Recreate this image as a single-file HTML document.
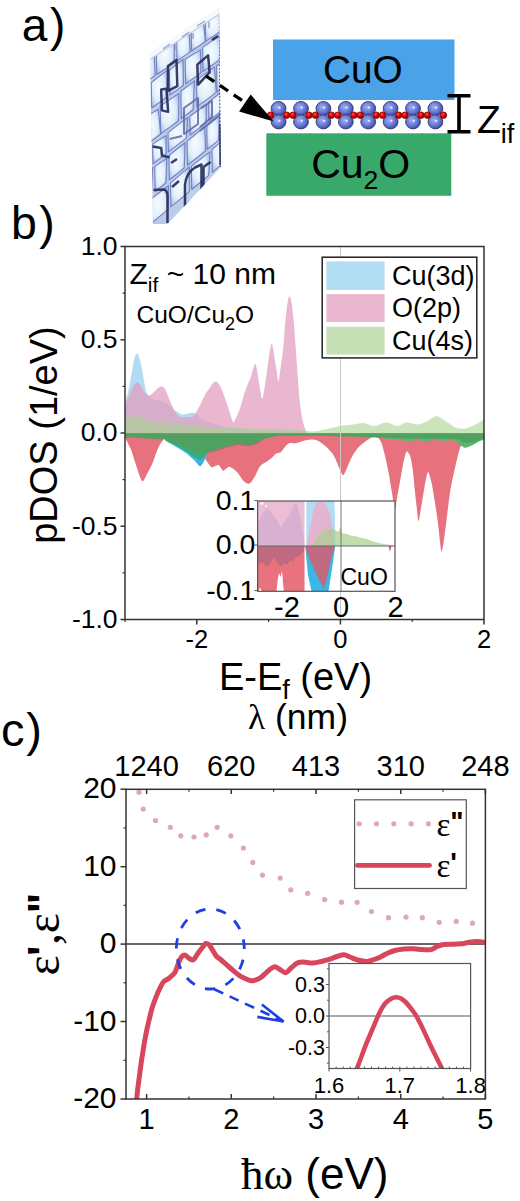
<!DOCTYPE html>
<html><head><meta charset="utf-8"><style>
html,body{margin:0;padding:0;background:#fff;overflow:hidden;width:520px;height:1201px;}
svg{display:block;}
</style></head><body>
<svg width="520" height="1201" viewBox="0 0 520 1201">
<rect width="520" height="1201" fill="#fff"/>
<text x="21.8" y="41.3" style="font-family:'Liberation Sans',sans-serif;font-size:46px;letter-spacing:2.6px" fill="#000">a)</text>
<defs><linearGradient id="slabg" x1="0" y1="0" x2="1" y2="1"><stop offset="0" stop-color="#c9d6f0"/><stop offset="0.5" stop-color="#b9c8ea"/><stop offset="1" stop-color="#c4d2ef"/></linearGradient><clipPath id="slabclip"><path d="M150,53 L219,8 L221,167 L170,221.5 L167.5,224 L153,224 Z"/></clipPath><filter id="blur1" x="-20%" y="-20%" width="140%" height="140%"><feGaussianBlur stdDeviation="1.6"/></filter><filter id="blur2" x="-20%" y="-20%" width="140%" height="140%"><feGaussianBlur stdDeviation="0.6"/></filter></defs>
<path d="M150,53 L219,8 L221,167 L170,221.5 L167.5,224 L153,224 Z" fill="url(#slabg)"/>
<g clip-path="url(#slabclip)">
<defs><radialGradient id="stone" cx="0.45" cy="0.45" r="0.62"><stop offset="0" stop-color="#f6fbff"/><stop offset="0.6" stop-color="#e0eefb"/><stop offset="1" stop-color="#aebfe8"/></radialGradient></defs>
<g filter="url(#blur2)" stroke="#7282be" stroke-width="1.1" stroke-linejoin="round" fill="url(#stone)">
<path d="M140.9,61.0 L154.2,52.4 L155.1,75.8 L141.4,85.1 Z"/>
<path d="M156.3,51.0 L174.5,37.7 L174.1,62.9 L156.7,74.7 Z"/>
<path d="M176.6,37.7 L189.1,30.5 L190.2,51.9 L177.0,60.9 Z"/>
<path d="M191.2,28.1 L203.3,21.8 L205.5,41.5 L191.5,51.0 Z"/>
<path d="M205.3,18.9 L222.5,8.0 L221.3,30.8 L205.6,41.4 Z"/>
<path d="M151.3,82.5 L167.3,70.1 L166.5,97.5 L151.7,108.0 Z"/>
<path d="M169.4,70.1 L183.1,59.2 L183.4,85.5 L169.8,95.1 Z"/>
<path d="M185.2,59.3 L200.5,49.9 L200.9,73.0 L185.6,83.9 Z"/>
<path d="M202.6,47.4 L219.6,35.8 L220.6,59.0 L202.9,71.6 Z"/>
<path d="M144.2,117.6 L158.2,109.2 L160.7,134.0 L144.7,145.9 Z"/>
<path d="M160.2,106.1 L178.9,93.4 L178.5,120.7 L160.7,133.9 Z"/>
<path d="M180.9,91.3 L194.5,80.9 L193.1,109.8 L181.3,118.6 Z"/>
<path d="M196.5,80.1 L214.5,66.9 L216.3,92.4 L196.9,106.9 Z"/>
<path d="M216.6,65.7 L231.4,56.5 L233.1,79.8 L216.9,92.0 Z"/>
<path d="M152.6,144.1 L166.0,135.5 L166.2,153.6 L153.0,163.8 Z"/>
<path d="M168.0,132.6 L187.7,117.4 L186.3,138.1 L168.4,151.9 Z"/>
<path d="M189.8,116.2 L206.6,104.5 L205.9,122.9 L190.1,135.1 Z"/>
<path d="M208.7,102.0 L221.0,92.2 L223.1,109.6 L208.9,120.6 Z"/>
<path d="M140.1,178.0 L152.7,167.3 L151.5,194.3 L140.6,203.1 Z"/>
<path d="M154.7,166.6 L166.9,158.2 L165.9,182.7 L155.2,191.4 Z"/>
<path d="M168.9,155.6 L185.1,142.8 L184.2,168.0 L169.3,180.0 Z"/>
<path d="M187.1,141.4 L204.7,126.5 L205.7,150.7 L187.5,165.3 Z"/>
<path d="M206.8,126.1 L219.4,116.1 L218.5,140.4 L207.1,149.5 Z"/>
<path d="M149.0,200.5 L168.5,185.7 L168.1,209.3 L149.4,224.9 Z"/>
<path d="M170.5,183.1 L189.3,166.9 L189.3,191.6 L170.9,206.9 Z"/>
<path d="M191.4,166.2 L210.0,151.6 L208.7,175.4 L191.7,189.5 Z"/>
<path d="M212.0,149.5 L231.7,132.7 L231.0,156.7 L212.3,172.3 Z"/>
</g>
<g fill="none" stroke="#5d6aa6" stroke-width="2" stroke-linejoin="round" opacity="0.85" filter="url(#blur2)">
<path d="M184,108 L198,98 L198,124 L184,134 Z"/>
<path d="M201,108 L212,101 L212,117 L200,127"/>
<path d="M169.6,139 L182,136"/>
<path d="M199.6,131 L221,113.5"/>
</g>
<g fill="none" stroke="#262d5c" stroke-width="2.5" stroke-linejoin="round" opacity="0.92" filter="url(#blur2)">
<path d="M197.3,64.6 L208.1,55.4 L209.6,72.3 L198.1,84.6 Z"/>
<path d="M168,66 L176.5,60 L177.3,86.2 L168,90.8 Z"/>
<path d="M161.2,89.6 L166.5,88.8 L168.1,111.9 L161.9,110.4 Z"/>
<path d="M152.7,146.5 L161.2,148 L162,155.8 L169.6,157.3"/>
<path d="M153.5,190 L164,189.5 Q167.3,190.5 167.5,196 L167.5,223"/>
<path d="M185,206.5 L185,185 Q186,173 195,167.5 L201.5,164.5 L201.5,192.5 Z"/>
<path d="M203.5,167 L210.5,162 M203.5,167 L203.5,190"/>
<path d="M171,163 L177,159"/>
<path d="M172,187 L179,181"/>
<path d="M220.3,124 L220.6,165"/>
<path d="M212,40 L218,36"/>
</g>
<path d="M219.8,12 L220.8,167" stroke="#3a4272" stroke-width="2" stroke-dasharray="2,1.5" fill="none"/>
</g>
<path d="M149.5,52.5 L218.5,7.5 L219.5,14 L150.5,59 Z" fill="#f6f8fd"/>
<path d="M150.5,59 L219.5,14" stroke="#c3cbe2" stroke-width="1.2" fill="none"/>
<path d="M163,49 L170,44 M182,37 L189,32 M197,26 L205,21 M176,44 L176,50 M193,33 L193,39 M209,22 L209,28" stroke="#9aa3c2" stroke-width="1.4"/>
<rect x="273" y="39.5" width="181.5" height="60.5" fill="#4aa3e8"/>
<rect x="266.3" y="133.3" width="185" height="62.5" fill="#38a86b"/>
<text x="362.9" y="83.2" text-anchor="middle" style="font-family:'Liberation Sans',sans-serif;font-size:38.8px" fill="#000">CuO</text>
<text x="360.7" y="177.5" text-anchor="middle" style="font-family:'Liberation Sans',sans-serif;font-size:41px" fill="#000">Cu<tspan font-size="26.5" dy="11.5">2</tspan><tspan dy="-11.5">O</tspan></text>
<defs><radialGradient id="ab" cx="0.42" cy="0.4" r="0.62"><stop offset="0" stop-color="#a3b0f0"/><stop offset="0.55" stop-color="#6b7dd6"/><stop offset="1" stop-color="#3a4897"/></radialGradient><radialGradient id="ar" cx="0.4" cy="0.35" r="0.65"><stop offset="0" stop-color="#ff5050"/><stop offset="0.55" stop-color="#e00000"/><stop offset="1" stop-color="#900000"/></radialGradient></defs>
<ellipse cx="278.6" cy="108.6" rx="7.4" ry="7.1" fill="url(#ab)" stroke="#2d3878" stroke-width="0.9"/>
<circle cx="279.4" cy="107.6" r="1.1" fill="#eef"/>
<ellipse cx="278.6" cy="121.8" rx="7.4" ry="7.1" fill="url(#ab)" stroke="#2d3878" stroke-width="0.9"/>
<circle cx="279.4" cy="120.8" r="1.1" fill="#eef"/>
<ellipse cx="301.0" cy="108.6" rx="7.4" ry="7.1" fill="url(#ab)" stroke="#2d3878" stroke-width="0.9"/>
<circle cx="301.8" cy="107.6" r="1.1" fill="#eef"/>
<ellipse cx="301.0" cy="121.8" rx="7.4" ry="7.1" fill="url(#ab)" stroke="#2d3878" stroke-width="0.9"/>
<circle cx="301.8" cy="120.8" r="1.1" fill="#eef"/>
<ellipse cx="323.4" cy="108.6" rx="7.4" ry="7.1" fill="url(#ab)" stroke="#2d3878" stroke-width="0.9"/>
<circle cx="324.2" cy="107.6" r="1.1" fill="#eef"/>
<ellipse cx="323.4" cy="121.8" rx="7.4" ry="7.1" fill="url(#ab)" stroke="#2d3878" stroke-width="0.9"/>
<circle cx="324.2" cy="120.8" r="1.1" fill="#eef"/>
<ellipse cx="345.8" cy="108.6" rx="7.4" ry="7.1" fill="url(#ab)" stroke="#2d3878" stroke-width="0.9"/>
<circle cx="346.6" cy="107.6" r="1.1" fill="#eef"/>
<ellipse cx="345.8" cy="121.8" rx="7.4" ry="7.1" fill="url(#ab)" stroke="#2d3878" stroke-width="0.9"/>
<circle cx="346.6" cy="120.8" r="1.1" fill="#eef"/>
<ellipse cx="368.2" cy="108.6" rx="7.4" ry="7.1" fill="url(#ab)" stroke="#2d3878" stroke-width="0.9"/>
<circle cx="369.0" cy="107.6" r="1.1" fill="#eef"/>
<ellipse cx="368.2" cy="121.8" rx="7.4" ry="7.1" fill="url(#ab)" stroke="#2d3878" stroke-width="0.9"/>
<circle cx="369.0" cy="120.8" r="1.1" fill="#eef"/>
<ellipse cx="390.6" cy="108.6" rx="7.4" ry="7.1" fill="url(#ab)" stroke="#2d3878" stroke-width="0.9"/>
<circle cx="391.4" cy="107.6" r="1.1" fill="#eef"/>
<ellipse cx="390.6" cy="121.8" rx="7.4" ry="7.1" fill="url(#ab)" stroke="#2d3878" stroke-width="0.9"/>
<circle cx="391.4" cy="120.8" r="1.1" fill="#eef"/>
<ellipse cx="413.0" cy="108.6" rx="7.4" ry="7.1" fill="url(#ab)" stroke="#2d3878" stroke-width="0.9"/>
<circle cx="413.8" cy="107.6" r="1.1" fill="#eef"/>
<ellipse cx="413.0" cy="121.8" rx="7.4" ry="7.1" fill="url(#ab)" stroke="#2d3878" stroke-width="0.9"/>
<circle cx="413.8" cy="120.8" r="1.1" fill="#eef"/>
<ellipse cx="435.4" cy="108.6" rx="7.4" ry="7.1" fill="url(#ab)" stroke="#2d3878" stroke-width="0.9"/>
<circle cx="436.2" cy="107.6" r="1.1" fill="#eef"/>
<ellipse cx="435.4" cy="121.8" rx="7.4" ry="7.1" fill="url(#ab)" stroke="#2d3878" stroke-width="0.9"/>
<circle cx="436.2" cy="120.8" r="1.1" fill="#eef"/>
<circle cx="270.6" cy="115.2" r="3.3" fill="url(#ar)" stroke="#7a0000" stroke-width="0.7"/>
<circle cx="286.6" cy="115.2" r="3.3" fill="url(#ar)" stroke="#7a0000" stroke-width="0.7"/>
<circle cx="293.0" cy="115.2" r="3.3" fill="url(#ar)" stroke="#7a0000" stroke-width="0.7"/>
<circle cx="309.0" cy="115.2" r="3.3" fill="url(#ar)" stroke="#7a0000" stroke-width="0.7"/>
<circle cx="315.4" cy="115.2" r="3.3" fill="url(#ar)" stroke="#7a0000" stroke-width="0.7"/>
<circle cx="331.4" cy="115.2" r="3.3" fill="url(#ar)" stroke="#7a0000" stroke-width="0.7"/>
<circle cx="337.8" cy="115.2" r="3.3" fill="url(#ar)" stroke="#7a0000" stroke-width="0.7"/>
<circle cx="353.8" cy="115.2" r="3.3" fill="url(#ar)" stroke="#7a0000" stroke-width="0.7"/>
<circle cx="360.2" cy="115.2" r="3.3" fill="url(#ar)" stroke="#7a0000" stroke-width="0.7"/>
<circle cx="376.2" cy="115.2" r="3.3" fill="url(#ar)" stroke="#7a0000" stroke-width="0.7"/>
<circle cx="382.6" cy="115.2" r="3.3" fill="url(#ar)" stroke="#7a0000" stroke-width="0.7"/>
<circle cx="398.6" cy="115.2" r="3.3" fill="url(#ar)" stroke="#7a0000" stroke-width="0.7"/>
<circle cx="405.0" cy="115.2" r="3.3" fill="url(#ar)" stroke="#7a0000" stroke-width="0.7"/>
<circle cx="421.0" cy="115.2" r="3.3" fill="url(#ar)" stroke="#7a0000" stroke-width="0.7"/>
<circle cx="427.4" cy="115.2" r="3.3" fill="url(#ar)" stroke="#7a0000" stroke-width="0.7"/>
<circle cx="443.4" cy="115.2" r="3.3" fill="url(#ar)" stroke="#7a0000" stroke-width="0.7"/>
<path d="M206,76 L242.2,100.5" stroke="#000" stroke-width="3.3" stroke-dasharray="10,6.75" fill="none"/>
<path d="M250.7,94.6 L239.1,111.6 L273.7,121.4 Z" fill="#000"/>
<path d="M447.5,95.8 L470.5,95.8 M459,95.8 L459,131.8 M447.5,131.8 L470.5,131.8" stroke="#000" stroke-width="3.6" fill="none"/>
<text x="477" y="132.5" style="font-family:'Liberation Sans',sans-serif;font-size:39px" fill="#000">Z<tspan font-size="27" dy="10">if</tspan></text>
<text x="11" y="239" style="font-family:'Liberation Sans',sans-serif;font-size:46.5px;letter-spacing:2.4px" fill="#000">b)</text>
<defs><clipPath id="bclip"><rect x="125" y="246.5" width="359" height="373"/></clipPath></defs>
<g clip-path="url(#bclip)">
<path d="M125.0,402.0 C125.5,400.3 127.0,396.2 128.0,392.0 C129.0,387.8 130.0,382.3 131.0,377.0 C132.0,371.7 133.1,363.9 134.0,360.0 C134.9,356.1 135.9,353.9 136.7,353.4 C137.5,352.9 138.2,355.0 139.0,357.0 C139.8,359.0 140.6,361.9 141.3,365.4 C142.1,368.9 142.7,373.8 143.5,378.0 C144.3,382.2 144.9,387.6 145.9,390.8 C146.9,394.0 148.1,395.6 149.4,397.0 C150.8,398.4 151.9,398.8 154.0,399.5 C156.1,400.2 159.7,400.2 162.0,401.0 C164.3,401.8 165.8,402.9 168.0,404.5 C170.2,406.1 172.8,408.9 175.0,410.5 C177.2,412.1 179.5,413.3 181.0,414.0 C182.5,414.7 182.8,414.6 184.0,414.5 C185.2,414.4 186.5,413.8 188.0,413.5 C189.5,413.2 191.7,412.5 193.2,412.7 C194.7,412.9 195.8,413.6 197.0,414.5 C198.2,415.4 198.9,416.9 200.2,418.0 C201.5,419.1 202.5,420.0 205.0,421.0 C207.5,422.0 210.8,422.8 215.0,424.0 C219.2,425.2 222.5,427.0 230.0,428.0 C237.5,429.0 248.3,429.4 260.0,430.0 C271.7,430.6 291.3,431.0 300.0,431.5 C308.7,432.0 281.3,432.7 312.0,433.0 C342.7,433.3 455.3,433.2 484.0,433.2 L484.0,433.4 L125.0,433.4 Z" fill="#b2dcf1"/>
<path d="M125.0,405.0 C125.5,403.8 126.8,400.8 128.0,398.0 C129.2,395.2 130.9,390.8 132.1,388.5 C133.3,386.2 134.1,385.0 135.0,384.0 C135.9,383.0 136.8,382.4 137.8,382.7 C138.8,383.0 139.8,384.3 141.0,386.0 C142.2,387.7 143.4,391.4 144.8,393.0 C146.2,394.6 147.9,395.6 149.4,395.4 C150.9,395.2 152.6,393.2 154.0,392.0 C155.4,390.8 156.7,388.9 158.0,388.0 C159.3,387.1 160.9,386.4 162.1,386.6 C163.3,386.8 164.1,387.5 165.0,389.0 C165.9,390.5 166.8,393.1 167.8,395.4 C168.8,397.7 169.8,400.3 171.0,403.0 C172.2,405.7 173.6,409.4 174.8,411.5 C176.0,413.6 176.8,414.5 178.0,415.5 C179.2,416.5 180.2,417.1 181.7,417.3 C183.2,417.6 185.1,417.2 187.0,417.0 C188.9,416.8 191.4,417.5 193.2,416.2 C195.0,414.9 196.4,411.7 198.0,409.0 C199.6,406.3 201.2,402.7 202.5,400.0 C203.8,397.3 204.8,394.9 206.0,393.0 C207.2,391.1 208.2,390.2 209.4,388.5 C210.6,386.8 211.8,384.2 213.0,383.0 C214.2,381.8 215.2,381.2 216.3,381.5 C217.4,381.8 218.3,383.1 219.5,385.0 C220.7,386.9 221.9,389.8 223.2,393.0 C224.4,396.2 225.8,400.5 227.0,404.0 C228.2,407.5 229.3,411.1 230.2,413.9 C231.1,416.6 231.7,419.1 232.3,420.5 C232.9,421.9 232.8,422.7 233.6,422.0 C234.4,421.3 235.8,418.5 236.9,416.2 C238.0,413.9 238.8,411.5 240.0,408.0 C241.2,404.5 242.6,399.1 243.8,395.4 C245.0,391.7 245.8,389.1 247.0,386.0 C248.2,382.9 249.5,380.5 250.8,376.9 C252.1,373.3 253.9,365.3 254.9,364.2 C255.9,363.1 256.4,367.1 257.0,370.0 C257.6,372.9 258.2,377.8 258.8,381.5 C259.4,385.2 259.9,389.1 260.5,392.0 C261.1,394.9 261.6,399.6 262.3,398.9 C263.0,398.2 263.7,392.4 264.5,388.0 C265.3,383.6 266.1,377.6 266.9,372.3 C267.6,367.0 268.2,360.8 269.0,356.0 C269.8,351.2 270.8,344.5 271.5,343.5 C272.2,342.5 272.7,347.1 273.3,350.0 C273.9,352.9 274.4,357.1 275.0,360.8 C275.6,364.5 276.2,368.6 276.8,372.0 C277.4,375.4 277.8,382.5 278.5,381.5 C279.2,380.5 280.0,371.4 280.8,366.0 C281.6,360.6 282.4,356.0 283.1,349.2 C283.8,342.4 284.4,331.5 285.0,325.0 C285.6,318.5 286.0,314.2 286.5,310.0 C287.0,305.8 287.5,302.3 288.0,300.0 C288.5,297.7 289.0,296.2 289.5,296.2 C290.0,296.2 290.5,298.1 291.0,300.0 C291.5,301.9 291.8,303.5 292.3,307.7 C292.8,311.9 293.4,318.1 294.0,325.0 C294.6,331.9 295.2,341.2 295.8,349.2 C296.4,357.2 296.9,365.3 297.5,373.0 C298.1,380.7 298.6,389.1 299.2,395.4 C299.8,401.7 300.4,406.8 301.0,411.0 C301.6,415.2 302.1,418.1 302.7,420.8 C303.3,423.5 303.9,425.3 304.5,427.0 C305.1,428.7 305.5,430.2 306.2,431.2 C306.9,432.2 306.2,432.5 308.5,432.8 C310.8,433.1 290.8,433.1 320.0,433.2 C349.2,433.3 456.7,433.3 484.0,433.3 L484.0,433.4 L125.0,433.4 Z" fill="rgb(226,159,191)" opacity="0.75"/>
<path d="M125.0,419.0 C126.3,418.5 130.2,416.1 133.0,416.0 C135.8,415.9 139.2,417.8 142.0,418.5 C144.8,419.2 145.3,419.2 150.0,420.0 C154.7,420.8 162.8,422.1 170.0,423.0 C177.2,423.9 186.3,424.7 193.0,425.4 C199.7,426.1 202.2,426.6 210.0,427.0 C217.8,427.4 230.0,427.7 240.0,428.0 C250.0,428.3 260.0,428.7 270.0,429.0 C280.0,429.3 292.8,429.6 300.0,430.0 C307.2,430.4 308.5,431.7 313.0,431.5 C317.5,431.3 322.5,429.9 327.0,429.0 C331.5,428.1 335.5,426.8 340.0,426.0 C344.5,425.2 350.2,425.0 354.0,424.5 C357.8,424.0 359.6,422.8 363.0,423.0 C366.4,423.2 370.8,426.1 374.6,426.0 C378.4,425.9 382.1,422.5 386.0,422.5 C389.9,422.5 394.3,426.0 397.7,426.0 C401.1,426.0 402.9,422.8 406.3,422.5 C409.7,422.2 414.6,424.6 418.0,424.5 C421.4,424.4 424.2,422.7 426.5,421.6 C428.8,420.5 430.3,418.9 432.0,418.0 C433.7,417.1 435.1,415.9 436.6,415.9 C438.1,415.9 439.8,417.3 441.0,418.0 C442.2,418.7 442.3,419.2 443.8,420.2 C445.3,421.2 448.1,422.8 450.0,424.0 C451.9,425.2 453.1,426.6 455.4,427.4 C457.7,428.2 461.6,428.9 464.0,428.8 C466.4,428.7 468.1,427.7 470.0,427.0 C471.9,426.3 473.5,425.6 475.6,424.5 C477.7,423.4 481.4,421.0 482.8,420.2 C484.2,419.4 483.8,419.6 484.0,419.5 L484.0,433.4 L125.0,433.4 Z" fill="rgb(170,212,146)" opacity="0.62"/>
<path d="M124.0,436.0 C124.2,436.4 125.0,437.5 125.5,438.5 C126.0,439.5 126.7,440.8 127.3,442.0 C127.9,443.2 128.5,444.7 129.2,446.0 C129.8,447.3 130.2,447.3 131.2,450.0 C132.2,452.7 133.7,458.0 135.0,462.0 C136.3,466.0 137.8,470.8 139.0,474.0 C140.2,477.2 141.2,481.0 142.5,481.2 C143.8,481.4 144.9,477.9 146.5,475.0 C148.1,472.1 150.6,467.6 152.3,463.8 C154.0,460.0 155.2,455.2 156.5,452.0 C157.8,448.8 158.8,446.7 160.0,444.6 C161.2,442.5 162.8,440.8 163.8,439.5 C164.8,438.2 165.0,437.6 166.0,437.0 C167.0,436.4 164.3,436.2 170.0,436.0 C175.7,435.8 194.5,434.5 200.0,436.0 C205.5,437.5 202.2,441.5 203.0,445.0 C203.8,448.5 204.0,454.0 204.8,457.0 C205.6,460.0 206.8,461.3 208.0,463.0 C209.2,464.7 210.5,466.8 211.7,467.3 C212.9,467.8 213.8,466.4 215.0,466.0 C216.2,465.6 217.6,464.7 218.6,465.0 C219.6,465.3 220.2,467.0 221.0,468.0 C221.8,469.0 222.2,470.8 223.2,470.8 C224.2,470.8 225.8,468.6 227.0,468.0 C228.2,467.4 228.5,466.4 230.2,467.0 C231.8,467.6 235.3,470.4 236.9,471.9 C238.5,473.4 238.8,474.4 240.0,476.0 C241.2,477.6 242.2,479.9 243.8,481.2 C245.4,482.4 247.7,484.5 249.6,483.5 C251.5,482.5 253.7,478.3 255.4,475.4 C257.1,472.5 258.1,468.5 260.0,466.2 C261.9,463.9 265.0,462.9 266.9,461.5 C268.8,460.1 269.9,459.4 271.5,458.1 C273.1,456.8 274.6,454.5 276.2,453.5 C277.8,452.5 279.3,453.5 280.8,452.3 C282.3,451.1 283.9,448.0 285.4,446.5 C286.9,445.0 288.1,443.7 290.0,443.1 C291.9,442.5 294.6,443.5 296.9,443.1 C299.2,442.7 301.6,441.4 303.9,440.8 C306.2,440.2 308.5,439.6 310.8,439.6 C313.1,439.6 315.4,439.8 317.7,440.8 C320.0,441.8 322.3,443.5 324.6,445.4 C326.9,447.3 329.8,450.2 331.5,452.3 C333.2,454.4 333.8,455.7 335.0,458.0 C336.2,460.3 337.2,463.4 338.5,466.2 C339.8,469.0 341.6,474.4 342.9,475.0 C344.1,475.6 344.6,472.9 346.0,470.0 C347.4,467.1 349.7,461.2 351.5,457.7 C353.3,454.2 355.1,451.4 357.0,449.0 C358.9,446.6 360.7,445.2 363.1,443.3 C365.6,441.4 369.3,438.5 371.7,437.5 C374.1,436.5 375.9,436.8 377.5,437.5 C379.1,438.2 380.0,440.1 381.0,442.0 C382.0,443.9 382.5,446.0 383.3,449.0 C384.1,452.0 385.1,455.7 386.0,460.0 C386.9,464.3 388.0,469.5 389.0,475.0 C390.0,480.5 391.0,487.2 392.0,493.0 C393.0,498.8 393.9,509.3 394.8,509.6 C395.7,509.9 396.5,500.3 397.5,495.0 C398.5,489.7 399.6,483.4 400.6,477.9 C401.6,472.4 402.6,466.3 403.5,462.0 C404.4,457.7 405.5,453.4 406.3,451.9 C407.1,450.4 407.8,452.0 408.5,453.0 C409.2,454.0 409.9,454.5 410.7,457.7 C411.4,460.9 412.3,466.2 413.0,472.0 C413.7,477.8 414.4,486.3 415.0,492.3 C415.6,498.3 416.2,503.2 416.8,508.0 C417.4,512.8 417.8,521.1 418.5,521.1 C419.2,521.1 420.1,512.8 421.0,508.0 C421.9,503.2 422.8,497.1 423.6,492.3 C424.4,487.5 425.3,482.4 426.0,479.0 C426.7,475.6 427.3,472.4 428.0,472.1 C428.7,471.8 429.3,474.6 430.0,477.0 C430.7,479.4 431.5,482.2 432.3,486.5 C433.1,490.8 434.0,496.8 435.0,503.0 C436.0,509.2 437.3,517.5 438.1,524.0 C438.9,530.5 439.4,537.4 440.0,542.0 C440.6,546.6 440.9,551.2 441.5,551.4 C442.1,551.6 442.9,546.6 443.5,543.0 C444.1,539.4 444.6,535.0 445.3,529.8 C446.0,524.6 446.8,517.8 447.5,512.0 C448.2,506.2 448.8,500.7 449.6,495.2 C450.4,489.7 451.5,483.8 452.5,479.0 C453.5,474.2 454.2,471.3 455.4,466.3 C456.6,461.3 458.3,453.3 459.7,449.0 C461.1,444.7 462.3,442.4 464.0,440.4 C465.7,438.4 466.7,437.7 470.0,437.0 C473.3,436.3 481.7,436.2 484.0,436.0 L484.0,433.4 L124.0,433.4 Z" fill="#e8717e"/>
<path d="M125.0,434.0 C130.8,434.3 153.2,434.8 160.0,436.0 C166.8,437.2 164.0,439.6 166.0,441.0 C168.0,442.4 170.0,443.3 172.0,444.5 C174.0,445.7 176.2,446.9 178.0,448.0 C179.8,449.1 181.2,449.8 183.0,451.0 C184.8,452.2 186.5,453.3 188.5,455.0 C190.5,456.7 193.2,459.2 195.0,461.0 C196.8,462.8 198.3,465.4 199.5,466.0 C200.7,466.6 201.2,465.5 202.0,464.5 C202.8,463.5 203.6,462.1 204.6,460.0 C205.6,457.9 206.3,455.0 208.0,452.0 C209.7,449.0 211.3,444.5 215.0,442.0 C218.7,439.5 222.5,438.0 230.0,437.0 C237.5,436.0 248.3,436.3 260.0,436.0 C271.7,435.7 286.7,435.2 300.0,435.0 C313.3,434.8 309.3,434.7 340.0,434.5 C370.7,434.3 460.0,434.1 484.0,434.0 L484.0,433.4 L125.0,433.4 Z" fill="#3cb4e2"/>
<path d="M125.0,434.0 C130.8,434.3 153.2,434.9 160.0,436.0 C166.8,437.1 163.5,439.1 165.5,440.4 C167.5,441.6 169.3,442.1 172.0,443.5 C174.7,444.9 179.2,447.1 181.7,448.5 C184.2,449.9 185.1,450.7 187.0,452.0 C188.9,453.3 191.5,455.4 193.2,456.5 C194.9,457.6 195.8,457.9 197.0,458.5 C198.2,459.1 199.2,460.1 200.2,460.0 C201.2,459.9 202.0,458.8 203.0,458.0 C204.0,457.2 204.5,456.7 206.0,455.0 C207.5,453.3 209.7,450.0 212.0,448.0 C214.3,446.0 215.3,445.0 220.0,443.0 C224.7,441.0 196.0,437.5 240.0,436.0 C284.0,434.5 443.3,434.3 484.0,434.0 L484.0,433.4 L125.0,433.4 Z" fill="#38ad78"/>
<path d="M125.0,434.0 C160.8,434.0 297.5,433.3 340.0,434.0 C382.5,434.7 370.0,437.0 380.0,438.0 C390.0,439.0 395.0,439.4 400.0,440.0 C405.0,440.6 407.2,441.6 410.0,441.5 C412.8,441.4 414.5,439.5 417.0,439.5 C419.5,439.5 422.0,441.4 425.0,441.5 C428.0,441.6 431.7,440.1 435.0,440.0 C438.3,439.9 442.2,441.0 445.0,441.0 C447.8,441.0 449.8,439.7 452.0,440.0 C454.2,440.3 456.0,441.8 458.0,443.0 C460.0,444.2 462.3,446.8 464.0,447.5 C465.7,448.2 466.6,447.4 468.0,447.0 C469.4,446.6 471.0,445.7 472.7,444.9 C474.4,444.1 476.6,442.7 478.0,442.0 C479.4,441.3 480.3,441.0 481.3,440.6 C482.3,440.2 483.6,439.7 484.0,439.5 L484.0,433.4 L125.0,433.4 Z" fill="#5cb56c"/>
<path d="M208.5,452.0 C209.1,451.8 210.2,451.6 212.3,451.0 C214.4,450.4 218.1,449.3 221.0,448.4 C223.9,447.5 226.7,446.5 229.6,445.8 C232.5,445.1 235.4,444.1 238.3,444.0 C241.2,443.9 244.3,444.9 246.9,444.9 C249.5,444.9 251.5,444.7 253.8,444.0 C256.1,443.3 259.6,441.2 260.7,440.6" fill="none" stroke="#a65a72" stroke-width="2.2" opacity="0.55"/>
<path d="M125.0,437.5 C127.5,437.6 135.0,437.9 140.0,438.2 C145.0,438.4 151.7,438.8 155.0,439.0 C158.3,439.2 158.2,439.2 160.0,439.2 C161.8,439.2 163.5,438.6 165.5,439.2 C167.5,439.8 169.3,441.3 172.0,442.5 C174.7,443.7 179.2,445.2 181.7,446.2 C184.2,447.2 185.1,447.7 187.0,448.5 C188.9,449.3 191.0,450.0 193.2,450.8 C195.4,451.6 198.3,452.8 200.2,453.1 C202.1,453.4 203.4,452.7 204.8,452.5 C206.2,452.3 207.2,452.2 208.5,452.0 C209.8,451.8 210.2,451.6 212.3,451.0 C214.4,450.4 218.1,449.3 221.0,448.4 C223.9,447.5 226.7,446.5 229.6,445.8 C232.5,445.1 235.4,444.1 238.3,444.0 C241.2,443.9 244.3,444.9 246.9,444.9 C249.5,444.9 251.5,444.7 253.8,444.0 C256.1,443.3 258.4,441.6 260.7,440.6 C263.0,439.6 265.1,438.7 267.7,438.0 C270.3,437.3 273.4,436.6 276.3,436.2 C279.2,435.8 281.1,435.5 285.0,435.4 C288.9,435.3 290.8,435.6 300.0,435.8 C309.2,436.0 328.3,436.2 340.0,436.5 C351.7,436.8 360.0,437.0 370.0,437.3 C380.0,437.6 390.0,438.1 400.0,438.3 C410.0,438.6 420.8,438.7 430.0,438.8 C439.2,438.9 449.7,438.6 455.0,439.0 C460.3,439.4 459.8,440.8 462.0,441.5 C464.2,442.2 465.8,443.0 468.0,443.0 C470.2,443.0 472.3,442.2 475.0,441.5 C477.7,440.8 482.5,439.0 484.0,438.5 L484.0,433.4 L125.0,433.4 Z" fill="#50a160"/>
</g>
<line x1="340.5" y1="246.5" x2="340.5" y2="619.5" stroke="#c8c8c8" stroke-width="1"/>
<rect x="125" y="246.5" width="359" height="373" fill="none" stroke="#333" stroke-width="1.5"/>
<line x1="120.5" y1="246.5" x2="125" y2="246.5" stroke="#333" stroke-width="1.5"/>
<text x="117.6" y="254.8" text-anchor="end" style="font-family:'Liberation Sans',sans-serif;font-size:26.5px" fill="#000">1.0</text>
<line x1="120.5" y1="339.8" x2="125" y2="339.8" stroke="#333" stroke-width="1.5"/>
<text x="117.6" y="348.1" text-anchor="end" style="font-family:'Liberation Sans',sans-serif;font-size:26.5px" fill="#000">0.5</text>
<line x1="120.5" y1="433.0" x2="125" y2="433.0" stroke="#333" stroke-width="1.5"/>
<text x="117.6" y="441.3" text-anchor="end" style="font-family:'Liberation Sans',sans-serif;font-size:26.5px" fill="#000">0.0</text>
<line x1="120.5" y1="526.2" x2="125" y2="526.2" stroke="#333" stroke-width="1.5"/>
<text x="117.6" y="534.5" text-anchor="end" style="font-family:'Liberation Sans',sans-serif;font-size:26.5px" fill="#000">-0.5</text>
<line x1="120.5" y1="619.5" x2="125" y2="619.5" stroke="#333" stroke-width="1.5"/>
<text x="117.6" y="627.8" text-anchor="end" style="font-family:'Liberation Sans',sans-serif;font-size:26.5px" fill="#000">-1.0</text>
<line x1="122.5" y1="293.1" x2="125" y2="293.1" stroke="#333" stroke-width="1.2"/>
<line x1="122.5" y1="386.4" x2="125" y2="386.4" stroke="#333" stroke-width="1.2"/>
<line x1="122.5" y1="479.6" x2="125" y2="479.6" stroke="#333" stroke-width="1.2"/>
<line x1="122.5" y1="572.9" x2="125" y2="572.9" stroke="#333" stroke-width="1.2"/>
<line x1="196.8" y1="619.5" x2="196.8" y2="624.5" stroke="#333" stroke-width="1.5"/>
<text x="196.8" y="647.5" text-anchor="middle" style="font-family:'Liberation Sans',sans-serif;font-size:25.5px" fill="#000">-2</text>
<line x1="340.4" y1="619.5" x2="340.4" y2="624.5" stroke="#333" stroke-width="1.5"/>
<text x="340.4" y="647.5" text-anchor="middle" style="font-family:'Liberation Sans',sans-serif;font-size:25.5px" fill="#000">0</text>
<line x1="484.0" y1="619.5" x2="484.0" y2="624.5" stroke="#333" stroke-width="1.5"/>
<text x="484.0" y="647.5" text-anchor="middle" style="font-family:'Liberation Sans',sans-serif;font-size:25.5px" fill="#000">2</text>
<line x1="125.0" y1="619.5" x2="125.0" y2="622" stroke="#333" stroke-width="1.2"/>
<line x1="268.6" y1="619.5" x2="268.6" y2="622" stroke="#333" stroke-width="1.2"/>
<line x1="412.2" y1="619.5" x2="412.2" y2="622" stroke="#333" stroke-width="1.2"/>
<text transform="translate(56.5,435) rotate(-90)" text-anchor="middle" style="font-family:'Liberation Sans',sans-serif;font-size:38px" fill="#000">pDOS (1/eV)</text>
<text x="295.5" y="690" text-anchor="middle" style="font-family:'Liberation Sans',sans-serif;font-size:38px" fill="#000">E-E<tspan font-size="27" dy="9">f</tspan><tspan dy="-9"> (eV)</tspan></text>
<text x="129.5" y="284.3" style="font-family:'Liberation Sans',sans-serif;font-size:30px" fill="#000">Z<tspan font-size="21" dy="7.5">if</tspan><tspan dy="-7.5"> ~ 10 nm</tspan></text>
<text x="136.5" y="323" style="font-family:'Liberation Sans',sans-serif;font-size:24.5px" fill="#000">CuO/Cu<tspan font-size="18" dy="6.5">2</tspan><tspan dy="-6.5">O</tspan></text>
<rect x="322.2" y="257.2" width="154.6" height="100.7" fill="#fff" stroke="#222" stroke-width="1.5"/>
<rect x="326.4" y="261.4" width="58.2" height="28.5" fill="#b2dcf1"/>
<rect x="326.4" y="294.1" width="58.2" height="27.9" fill="#e9b7cf"/>
<rect x="326.4" y="326.8" width="58.2" height="27.8" fill="#c6e0b6"/>
<text x="392" y="285.1" style="font-family:'Liberation Sans',sans-serif;font-size:27px" fill="#000">Cu(3d)</text>
<text x="392" y="317.3" style="font-family:'Liberation Sans',sans-serif;font-size:27px" fill="#000">O(2p)</text>
<text x="392" y="349.8" style="font-family:'Liberation Sans',sans-serif;font-size:27px" fill="#000">Cu(4s)</text>
<defs><clipPath id="biclip"><rect x="257.6" y="501" width="137.4" height="90.3"/></clipPath></defs>
<rect x="257.6" y="501" width="137.4" height="90.3" fill="#fff"/>
<g clip-path="url(#biclip)">
<path d="M257.6,501 L304.5,501 L304.5,546 L257.6,546 Z" fill="#ecbdd4"/>
<circle cx="262" cy="503.5" r="1.6" fill="#fff" opacity="0.8"/><circle cx="266" cy="506" r="1.2" fill="#fff" opacity="0.6"/>
<path d="M257.6,522.0 C257.9,521.8 258.3,522.3 259.2,520.8 C260.1,519.3 261.7,515.0 263.0,513.0 C264.3,510.9 265.7,508.9 266.9,508.5 C268.1,508.1 269.0,509.5 270.0,510.5 C271.0,511.5 271.8,512.9 273.0,514.6 C274.2,516.4 275.7,519.0 277.0,521.0 C278.3,523.0 279.6,526.9 280.8,526.9 C282.1,526.9 283.2,522.8 284.5,521.0 C285.8,519.2 287.2,518.4 288.5,516.2 C289.8,514.0 291.2,510.3 292.5,508.0 C293.8,505.7 295.2,502.0 296.2,502.3 C297.2,502.6 297.7,506.9 298.5,510.0 C299.3,513.1 300.1,517.6 300.8,520.8 C301.5,524.0 302.0,526.5 302.5,529.0 C303.0,531.5 303.5,533.2 303.8,536.0 C304.1,538.8 304.4,544.3 304.5,546.0 L304.5,546.0 L257.6,546.0 Z" fill="#d8b1d2"/>
<path d="M306.3,501 L334.5,501 L335.5,546 L306.3,546 Z" fill="#b3dcf1"/>
<path d="M306.9,545.4 C307.2,543.3 308.2,537.1 309.0,533.0 C309.8,528.9 310.8,524.6 311.5,520.8 C312.2,517.0 312.7,512.8 313.5,510.0 C314.3,507.2 315.1,505.2 316.2,503.8 C317.3,502.4 318.7,502.1 320.0,501.8 C321.3,501.6 322.6,501.4 323.8,502.3 C325.0,503.2 326.0,504.9 327.0,507.0 C328.0,509.1 329.2,511.8 330.0,514.6 C330.8,517.4 331.3,520.4 331.8,524.0 C332.3,527.6 332.6,532.3 333.0,536.0 C333.4,539.7 333.8,544.3 334.0,546.0 L334.0,546.0 L306.9,546.0 Z" fill="#e3b4d2"/>
<path d="M311.0,546.0 C311.3,545.7 312.2,545.2 313.0,544.0 C313.8,542.8 314.8,540.8 316.0,539.0 C317.2,537.2 318.7,535.0 320.0,533.5 C321.3,532.0 322.6,530.7 323.8,530.0 C325.1,529.3 326.2,529.8 327.5,529.5 C328.8,529.2 330.2,528.4 331.5,528.5 C332.8,528.6 333.8,529.5 335.0,530.0 C336.2,530.5 337.5,532.0 338.5,531.5 C339.5,531.0 340.2,526.8 340.8,527.0 C341.4,527.2 341.3,531.8 342.3,533.0 C343.3,534.2 345.7,533.6 347.0,534.0 C348.3,534.4 348.7,535.2 350.0,535.5 C351.3,535.8 352.9,535.7 354.6,536.0 C356.3,536.3 357.9,537.0 360.0,537.5 C362.1,538.0 364.8,538.3 367.0,539.0 C369.2,539.7 371.0,540.8 373.0,541.5 C375.0,542.2 377.0,542.5 379.0,543.0 C381.0,543.5 382.9,544.0 385.0,544.3 C387.1,544.6 389.8,544.8 391.5,545.0 C393.2,545.2 394.4,545.4 395.0,545.5 L395.0,546.0 L311.0,546.0 Z" fill="rgb(167,207,143)" opacity="0.7"/>
<path d="M388.5,546 L390,552 L391.5,546 Z" fill="#d85a6a"/>
<path d="M257.6,546 L304.5,546 L304.5,591.3 L257.6,591.3 Z" fill="#e8737f"/>
<path d="M276.5,591.3 L277.7,580.0 L279.0,573.0 L280.5,577.0 L282.0,571.0 L283.8,591.3 L283.8,591.3 L276.5,591.3 Z" fill="#fff"/>
<path d="M258.5,591.3 L260.0,587.5 L262.0,591.3 L262.0,591.3 L258.5,591.3 Z" fill="#fff"/>
<path d="M257.6,562.0 L259.2,563.8 L262.0,562.0 L265.0,565.5 L268.5,565.4 L271.5,561.0 L274.6,557.7 L277.5,563.0 L280.8,567.0 L284.0,563.0 L287.0,565.0 L290.0,560.8 L293.0,562.0 L296.0,557.0 L299.2,556.0 L301.5,553.5 L303.8,551.5 L304.5,546.0 L304.5,546.0 L257.6,546.0 Z" fill="#bf6a80"/>
<path d="M305.5,547.0 L306.5,560.0 L308.0,575.0 L311.5,591.3 L328.5,591.3 L331.0,575.0 L333.0,562.0 L335.0,548.0 L335.0,546.0 L305.5,546.0 Z" fill="#3cb6e2"/>
<path d="M305.4,547.0 L308.0,556.0 L311.0,562.0 L313.0,567.0 L316.0,573.0 L319.0,580.0 L321.5,584.0 L323.8,588.5 L325.5,583.0 L327.5,575.0 L329.5,566.0 L331.5,557.0 L334.6,547.0 L334.6,546.0 L305.4,546.0 Z" fill="#bf6a80"/>
</g>
<line x1="257.6" y1="546" x2="395" y2="546" stroke="#666" stroke-width="1"/>
<line x1="341" y1="501" x2="341" y2="591.3" stroke="#777" stroke-width="1"/>
<rect x="257.6" y="501" width="137.4" height="90.3" fill="none" stroke="#555" stroke-width="1.2"/>
<text x="255.3" y="510.0" text-anchor="end" style="font-family:'Liberation Sans',sans-serif;font-size:28.5px" fill="#000">0.1</text>
<line x1="254.5" y1="500.6" x2="257.6" y2="500.6" stroke="#555" stroke-width="1"/>
<text x="255.3" y="554.4" text-anchor="end" style="font-family:'Liberation Sans',sans-serif;font-size:28.5px" fill="#000">0.0</text>
<line x1="254.5" y1="545.0" x2="257.6" y2="545.0" stroke="#555" stroke-width="1"/>
<text x="255.3" y="600.0" text-anchor="end" style="font-family:'Liberation Sans',sans-serif;font-size:28.5px" fill="#000">-0.1</text>
<line x1="254.5" y1="590.6" x2="257.6" y2="590.6" stroke="#555" stroke-width="1"/>
<text x="287.0" y="616.8" text-anchor="middle" style="font-family:'Liberation Sans',sans-serif;font-size:29px" fill="#000">-2</text>
<text x="341.0" y="616.8" text-anchor="middle" style="font-family:'Liberation Sans',sans-serif;font-size:29px" fill="#000">0</text>
<text x="395.5" y="616.8" text-anchor="middle" style="font-family:'Liberation Sans',sans-serif;font-size:29px" fill="#000">2</text>
<text x="340.5" y="585" style="font-family:'Liberation Sans',sans-serif;font-size:23px" fill="#000">CuO</text>
<text x="1" y="746" style="font-family:'Liberation Sans',sans-serif;font-size:47px;letter-spacing:1.8px" fill="#000">c)</text>
<text x="298" y="729.3" text-anchor="middle" style="font-family:'Liberation Sans',sans-serif;font-size:35.5px" fill="#000"><tspan style="font-family:'Liberation Serif',serif">λ</tspan> (nm)</text>
<defs><clipPath id="cclip"><rect x="126" y="789.3" width="359.4" height="309.7"/></clipPath></defs>
<line x1="126" y1="944" x2="485.4" y2="944" stroke="#333" stroke-width="1.3"/>
<circle cx="139.0" cy="792.2" r="2.6" fill="#e2a6b6"/>
<circle cx="143.2" cy="809.1" r="2.6" fill="#e2a6b6"/>
<circle cx="155.5" cy="820.5" r="2.6" fill="#e2a6b6"/>
<circle cx="170.3" cy="827.3" r="2.6" fill="#e2a6b6"/>
<circle cx="180.8" cy="835.8" r="2.6" fill="#e2a6b6"/>
<circle cx="194.0" cy="837.0" r="2.6" fill="#e2a6b6"/>
<circle cx="206.2" cy="834.9" r="2.6" fill="#e2a6b6"/>
<circle cx="217.2" cy="827.3" r="2.6" fill="#e2a6b6"/>
<circle cx="230.8" cy="835.8" r="2.6" fill="#e2a6b6"/>
<circle cx="243.4" cy="848.0" r="2.6" fill="#e2a6b6"/>
<circle cx="252.8" cy="862.4" r="2.6" fill="#e2a6b6"/>
<circle cx="262.5" cy="875.1" r="2.6" fill="#e2a6b6"/>
<circle cx="280.2" cy="878.1" r="2.6" fill="#e2a6b6"/>
<circle cx="290.8" cy="889.9" r="2.6" fill="#e2a6b6"/>
<circle cx="307.7" cy="893.3" r="2.6" fill="#e2a6b6"/>
<circle cx="324.7" cy="899.6" r="2.6" fill="#e2a6b6"/>
<circle cx="341.5" cy="902.2" r="2.6" fill="#e2a6b6"/>
<circle cx="357.1" cy="902.3" r="2.6" fill="#e2a6b6"/>
<circle cx="371.5" cy="911.5" r="2.6" fill="#e2a6b6"/>
<circle cx="388.5" cy="917.7" r="2.6" fill="#e2a6b6"/>
<circle cx="406.0" cy="917.1" r="2.6" fill="#e2a6b6"/>
<circle cx="422.3" cy="917.7" r="2.6" fill="#e2a6b6"/>
<circle cx="439.2" cy="922.3" r="2.6" fill="#e2a6b6"/>
<circle cx="456.2" cy="921.4" r="2.6" fill="#e2a6b6"/>
<circle cx="472.5" cy="923.2" r="2.6" fill="#e2a6b6"/>
<g clip-path="url(#cclip)"><path d="M136.3,1103.0 C136.5,1100.8 137.1,1094.5 137.6,1090.0 C138.1,1085.5 138.8,1080.9 139.4,1076.2 C140.0,1071.5 140.7,1066.5 141.3,1062.0 C142.0,1057.5 142.6,1053.5 143.3,1049.2 C144.0,1044.9 144.8,1040.2 145.6,1036.0 C146.4,1031.8 147.0,1028.7 148.1,1024.2 C149.2,1019.7 150.5,1013.6 151.9,1008.8 C153.3,1004.0 155.3,998.9 156.7,995.4 C158.0,991.9 158.9,990.2 160.0,988.0 C161.1,985.8 162.0,983.5 163.5,981.9 C165.0,980.2 167.3,979.7 169.2,978.1 C171.1,976.5 173.6,974.5 175.0,972.3 C176.4,970.0 176.9,967.0 177.9,964.6 C178.9,962.2 179.7,959.5 180.8,957.9 C181.9,956.3 183.3,955.0 184.6,955.0 C185.9,955.0 187.1,957.1 188.5,957.9 C189.9,958.7 191.7,960.6 193.3,959.8 C194.9,959.0 196.7,955.1 198.1,953.1 C199.5,951.1 200.7,949.6 202.0,948.0 C203.3,946.4 204.5,943.9 205.8,943.5 C207.1,943.1 207.9,943.4 209.6,945.4 C211.3,947.4 214.1,953.1 215.8,955.4 C217.5,957.7 218.2,957.5 220.0,959.0 C221.8,960.5 224.5,962.9 226.5,964.6 C228.5,966.4 229.8,967.7 232.0,969.5 C234.2,971.3 237.4,974.1 239.6,975.6 C241.8,977.1 243.1,977.6 245.0,978.5 C246.9,979.4 249.4,980.6 251.2,980.8 C253.0,981.0 254.4,980.3 256.0,979.8 C257.6,979.2 259.0,978.8 260.8,977.5 C262.6,976.2 264.8,973.8 267.0,972.0 C269.2,970.2 272.0,967.3 274.2,966.9 C276.4,966.5 278.1,968.5 280.0,969.5 C281.9,970.5 284.0,973.0 285.8,972.7 C287.6,972.5 289.1,969.6 291.0,968.0 C292.9,966.4 295.3,964.1 297.3,963.1 C299.3,962.1 300.5,962.1 303.1,962.1 C305.7,962.1 309.5,963.2 312.7,963.1 C315.9,963.0 319.4,961.9 322.3,961.2 C325.2,960.6 327.6,960.0 330.0,959.2 C332.4,958.4 334.7,957.2 337.0,956.5 C339.3,955.8 341.8,954.6 344.0,954.7 C346.2,954.8 348.2,956.3 350.0,957.0 C351.8,957.7 352.9,958.3 354.6,958.9 C356.3,959.5 357.9,960.1 360.0,960.5 C362.1,960.9 365.0,961.7 367.3,961.5 C369.6,961.3 371.9,960.2 374.0,959.5 C376.1,958.8 377.8,958.2 380.0,957.2 C382.2,956.2 384.5,954.6 387.0,953.5 C389.5,952.4 392.0,951.2 394.8,950.5 C397.6,949.8 400.8,949.3 404.0,949.0 C407.2,948.7 410.8,948.7 413.8,948.8 C416.8,948.9 419.2,949.4 422.0,949.5 C424.8,949.6 428.2,950.1 430.7,949.6 C433.2,949.1 434.9,947.4 437.0,946.5 C439.1,945.6 440.9,944.9 443.4,944.5 C445.9,944.1 449.2,944.3 452.0,944.2 C454.8,944.1 457.9,944.0 460.4,943.8 C462.9,943.6 464.9,943.1 467.0,942.8 C469.1,942.5 471.2,942.0 473.0,941.8 C474.8,941.6 476.6,941.5 478.0,941.5 C479.4,941.5 480.0,941.8 481.5,942.0 C483.0,942.2 486.1,942.4 487.0,942.5" fill="none" stroke="#d8465c" stroke-width="5" stroke-linejoin="round" stroke-linecap="round"/></g>
<ellipse cx="210.3" cy="949" rx="34" ry="40" fill="none" stroke="#1f40e0" stroke-width="2.8" stroke-dasharray="10.3,10.9" stroke-dashoffset="10.4"/>
<path d="M214.2,989.2 L283.5,1021.5" stroke="#1f40e0" stroke-width="2.6" stroke-dasharray="10,7" fill="none"/>
<path d="M261.9,1004.6 L283.5,1021.5 L257.3,1016.9" stroke="#1f40e0" stroke-width="2.6" fill="none"/>
<rect x="126" y="789.3" width="359.4" height="309.7" fill="none" stroke="#333" stroke-width="1.5"/>
<line x1="120.5" y1="789.2" x2="126" y2="789.2" stroke="#333" stroke-width="1.5"/>
<text x="116.5" y="798.4" text-anchor="end" style="font-family:'Liberation Sans',sans-serif;font-size:30px" fill="#000">20</text>
<line x1="120.5" y1="866.7" x2="126" y2="866.7" stroke="#333" stroke-width="1.5"/>
<text x="116.5" y="875.9" text-anchor="end" style="font-family:'Liberation Sans',sans-serif;font-size:30px" fill="#000">10</text>
<line x1="120.5" y1="944.1" x2="126" y2="944.1" stroke="#333" stroke-width="1.5"/>
<text x="116.5" y="953.3" text-anchor="end" style="font-family:'Liberation Sans',sans-serif;font-size:30px" fill="#000">0</text>
<line x1="120.5" y1="1021.5" x2="126" y2="1021.5" stroke="#333" stroke-width="1.5"/>
<text x="116.5" y="1030.7" text-anchor="end" style="font-family:'Liberation Sans',sans-serif;font-size:30px" fill="#000">-10</text>
<line x1="120.5" y1="1099.0" x2="126" y2="1099.0" stroke="#333" stroke-width="1.5"/>
<text x="116.5" y="1108.2" text-anchor="end" style="font-family:'Liberation Sans',sans-serif;font-size:30px" fill="#000">-20</text>
<line x1="123.5" y1="827.9" x2="126" y2="827.9" stroke="#333" stroke-width="1.2"/>
<line x1="123.5" y1="905.4" x2="126" y2="905.4" stroke="#333" stroke-width="1.2"/>
<line x1="123.5" y1="982.8" x2="126" y2="982.8" stroke="#333" stroke-width="1.2"/>
<line x1="123.5" y1="1060.3" x2="126" y2="1060.3" stroke="#333" stroke-width="1.2"/>
<line x1="146.6" y1="1099" x2="146.6" y2="1094" stroke="#333" stroke-width="1.5"/>
<line x1="146.6" y1="789.3" x2="146.6" y2="794" stroke="#333" stroke-width="1.5"/>
<text x="146.6" y="1129.2" text-anchor="middle" style="font-family:'Liberation Sans',sans-serif;font-size:29px" fill="#000">1</text>
<line x1="231.3" y1="1099" x2="231.3" y2="1094" stroke="#333" stroke-width="1.5"/>
<line x1="231.3" y1="789.3" x2="231.3" y2="794" stroke="#333" stroke-width="1.5"/>
<text x="231.3" y="1129.2" text-anchor="middle" style="font-family:'Liberation Sans',sans-serif;font-size:29px" fill="#000">2</text>
<line x1="316.0" y1="1099" x2="316.0" y2="1094" stroke="#333" stroke-width="1.5"/>
<line x1="316.0" y1="789.3" x2="316.0" y2="794" stroke="#333" stroke-width="1.5"/>
<text x="316.0" y="1129.2" text-anchor="middle" style="font-family:'Liberation Sans',sans-serif;font-size:29px" fill="#000">3</text>
<line x1="400.7" y1="1099" x2="400.7" y2="1094" stroke="#333" stroke-width="1.5"/>
<line x1="400.7" y1="789.3" x2="400.7" y2="794" stroke="#333" stroke-width="1.5"/>
<text x="400.7" y="1129.2" text-anchor="middle" style="font-family:'Liberation Sans',sans-serif;font-size:29px" fill="#000">4</text>
<line x1="485.4" y1="1099" x2="485.4" y2="1094" stroke="#333" stroke-width="1.5"/>
<line x1="485.4" y1="789.3" x2="485.4" y2="794" stroke="#333" stroke-width="1.5"/>
<text x="485.4" y="1129.2" text-anchor="middle" style="font-family:'Liberation Sans',sans-serif;font-size:29px" fill="#000">5</text>
<line x1="188.9" y1="1099" x2="188.9" y2="1096.5" stroke="#333" stroke-width="1.2"/>
<line x1="188.9" y1="789.3" x2="188.9" y2="791.8" stroke="#333" stroke-width="1.2"/>
<line x1="273.6" y1="1099" x2="273.6" y2="1096.5" stroke="#333" stroke-width="1.2"/>
<line x1="273.6" y1="789.3" x2="273.6" y2="791.8" stroke="#333" stroke-width="1.2"/>
<line x1="358.4" y1="1099" x2="358.4" y2="1096.5" stroke="#333" stroke-width="1.2"/>
<line x1="358.4" y1="789.3" x2="358.4" y2="791.8" stroke="#333" stroke-width="1.2"/>
<line x1="443.0" y1="1099" x2="443.0" y2="1096.5" stroke="#333" stroke-width="1.2"/>
<line x1="443.0" y1="789.3" x2="443.0" y2="791.8" stroke="#333" stroke-width="1.2"/>
<text x="146.6" y="776" text-anchor="middle" style="font-family:'Liberation Sans',sans-serif;font-size:29px" fill="#000">1240</text>
<text x="231.3" y="776" text-anchor="middle" style="font-family:'Liberation Sans',sans-serif;font-size:29px" fill="#000">620</text>
<text x="316.0" y="776" text-anchor="middle" style="font-family:'Liberation Sans',sans-serif;font-size:29px" fill="#000">413</text>
<text x="400.7" y="776" text-anchor="middle" style="font-family:'Liberation Sans',sans-serif;font-size:29px" fill="#000">310</text>
<text x="485.4" y="776" text-anchor="middle" style="font-family:'Liberation Sans',sans-serif;font-size:29px" fill="#000">248</text>
<text x="241" y="1188.5" style="font-family:'Liberation Sans',sans-serif;font-size:44px" fill="#000"><tspan style="font-family:'Liberation Serif',serif;font-size:45px">ħω</tspan> (eV)</text>
<g transform="translate(58.5,0) rotate(-90)" fill="#000"><text x="-975.4" y="0" style="font-family:'Liberation Serif',serif;font-size:48px">ε</text><text x="-956" y="0" style="font-family:'Liberation Sans',sans-serif;font-size:44px;font-weight:bold">'</text><text x="-945" y="0" style="font-family:'Liberation Serif',serif;font-size:48px">,</text><text x="-933.2" y="0" style="font-family:'Liberation Serif',serif;font-size:48px">ε</text><text x="-913.5" y="0" style="font-family:'Liberation Sans',sans-serif;font-size:44px;font-weight:bold">"</text></g>
<rect x="354.6" y="799.8" width="111.7" height="88.7" fill="#fff" stroke="#555" stroke-width="1.2"/>
<circle cx="359.2" cy="823.8" r="2.6" fill="#e2a6b6"/>
<circle cx="376.5" cy="823.8" r="2.6" fill="#e2a6b6"/>
<circle cx="393.8" cy="823.8" r="2.6" fill="#e2a6b6"/>
<circle cx="411.1" cy="823.8" r="2.6" fill="#e2a6b6"/>
<circle cx="428.4" cy="823.8" r="2.6" fill="#e2a6b6"/>
<line x1="357.5" y1="865.4" x2="429.5" y2="865.4" stroke="#d8465c" stroke-width="4.8" stroke-linecap="round"/>
<text x="436.5" y="835.5" style="font-family:'Liberation Serif',serif;font-size:33px" fill="#000">ε<tspan style="font-family:Liberation Sans;font-weight:bold;font-size:28px" dy="-4.5">"</tspan></text>
<text x="436.5" y="876.6" style="font-family:'Liberation Serif',serif;font-size:33px" fill="#000">ε<tspan style="font-family:Liberation Sans;font-weight:bold;font-size:28px" dy="-4.5">'</tspan></text>
<rect x="329" y="963.5" width="141.6" height="105" fill="#fff"/>
<line x1="329" y1="1016" x2="470.6" y2="1016" stroke="#555" stroke-width="1.1"/>
<defs><clipPath id="ciclip"><rect x="329" y="963.5" width="141.6" height="105"/></clipPath></defs>
<g clip-path="url(#ciclip)"><path d="M352.0,1080.0 C352.9,1078.0 355.6,1071.9 357.3,1067.7 C359.0,1063.5 360.4,1059.3 362.0,1055.0 C363.6,1050.7 365.2,1046.3 367.0,1042.0 C368.8,1037.7 370.6,1033.4 372.5,1029.0 C374.4,1024.6 376.5,1019.3 378.1,1015.8 C379.7,1012.3 380.7,1010.2 382.0,1008.0 C383.3,1005.8 384.3,1004.1 386.0,1002.5 C387.7,1000.9 390.2,999.1 392.0,998.2 C393.8,997.3 395.0,997.2 396.5,997.2 C398.0,997.2 399.4,997.6 401.0,998.5 C402.6,999.4 404.3,1000.8 406.0,1002.5 C407.7,1004.2 409.3,1006.3 411.0,1008.5 C412.7,1010.7 414.4,1012.7 416.2,1015.8 C418.0,1018.9 420.0,1023.0 422.0,1027.0 C424.0,1031.0 425.9,1035.6 428.0,1040.0 C430.1,1044.4 432.2,1048.9 434.5,1053.5 C436.8,1058.1 439.4,1063.3 441.5,1067.7 C443.6,1072.1 446.1,1078.0 447.0,1080.0" fill="none" stroke="#d8465c" stroke-width="4.6" stroke-linecap="round" stroke-linejoin="round"/></g>
<rect x="329" y="963.5" width="141.6" height="105" fill="none" stroke="#555" stroke-width="1.2"/>
<line x1="326" y1="984.5" x2="329" y2="984.5" stroke="#555" stroke-width="1"/>
<text x="325" y="991.5" text-anchor="end" style="font-family:'Liberation Sans',sans-serif;font-size:21.5px" fill="#000">0.3</text>
<line x1="326" y1="1016.0" x2="329" y2="1016.0" stroke="#555" stroke-width="1"/>
<text x="325" y="1023.0" text-anchor="end" style="font-family:'Liberation Sans',sans-serif;font-size:21.5px" fill="#000">0.0</text>
<line x1="326" y1="1047.5" x2="329" y2="1047.5" stroke="#555" stroke-width="1"/>
<text x="325" y="1054.5" text-anchor="end" style="font-family:'Liberation Sans',sans-serif;font-size:21.5px" fill="#000">-0.3</text>
<line x1="329.0" y1="1068.5" x2="329.0" y2="1071.5" stroke="#555" stroke-width="1"/>
<text x="329.0" y="1092.6" text-anchor="middle" style="font-family:'Liberation Sans',sans-serif;font-size:22px" fill="#000">1.6</text>
<line x1="399.8" y1="1068.5" x2="399.8" y2="1071.5" stroke="#555" stroke-width="1"/>
<text x="399.8" y="1092.6" text-anchor="middle" style="font-family:'Liberation Sans',sans-serif;font-size:22px" fill="#000">1.7</text>
<line x1="470.6" y1="1068.5" x2="470.6" y2="1071.5" stroke="#555" stroke-width="1"/>
<text x="470.6" y="1092.6" text-anchor="middle" style="font-family:'Liberation Sans',sans-serif;font-size:22px" fill="#000">1.8</text>
<line x1="336.1" y1="1068.5" x2="336.1" y2="1066.5" stroke="#555" stroke-width="1"/>
<line x1="343.2" y1="1068.5" x2="343.2" y2="1066.5" stroke="#555" stroke-width="1"/>
<line x1="350.2" y1="1068.5" x2="350.2" y2="1066.5" stroke="#555" stroke-width="1"/>
<line x1="357.3" y1="1068.5" x2="357.3" y2="1066.5" stroke="#555" stroke-width="1"/>
<line x1="364.4" y1="1068.5" x2="364.4" y2="1066.5" stroke="#555" stroke-width="1"/>
<line x1="371.5" y1="1068.5" x2="371.5" y2="1066.5" stroke="#555" stroke-width="1"/>
<line x1="378.6" y1="1068.5" x2="378.6" y2="1066.5" stroke="#555" stroke-width="1"/>
<line x1="385.6" y1="1068.5" x2="385.6" y2="1066.5" stroke="#555" stroke-width="1"/>
<line x1="392.7" y1="1068.5" x2="392.7" y2="1066.5" stroke="#555" stroke-width="1"/>
<line x1="399.8" y1="1068.5" x2="399.8" y2="1066.5" stroke="#555" stroke-width="1"/>
<line x1="406.9" y1="1068.5" x2="406.9" y2="1066.5" stroke="#555" stroke-width="1"/>
<line x1="414.0" y1="1068.5" x2="414.0" y2="1066.5" stroke="#555" stroke-width="1"/>
<line x1="421.0" y1="1068.5" x2="421.0" y2="1066.5" stroke="#555" stroke-width="1"/>
<line x1="428.1" y1="1068.5" x2="428.1" y2="1066.5" stroke="#555" stroke-width="1"/>
<line x1="435.2" y1="1068.5" x2="435.2" y2="1066.5" stroke="#555" stroke-width="1"/>
<line x1="442.3" y1="1068.5" x2="442.3" y2="1066.5" stroke="#555" stroke-width="1"/>
<line x1="449.4" y1="1068.5" x2="449.4" y2="1066.5" stroke="#555" stroke-width="1"/>
<line x1="456.4" y1="1068.5" x2="456.4" y2="1066.5" stroke="#555" stroke-width="1"/>
<line x1="463.5" y1="1068.5" x2="463.5" y2="1066.5" stroke="#555" stroke-width="1"/>
<line x1="327" y1="968.8" x2="329" y2="968.8" stroke="#555" stroke-width="1"/>
<line x1="327" y1="1000.2" x2="329" y2="1000.2" stroke="#555" stroke-width="1"/>
<line x1="327" y1="1031.8" x2="329" y2="1031.8" stroke="#555" stroke-width="1"/>
<line x1="327" y1="1063.2" x2="329" y2="1063.2" stroke="#555" stroke-width="1"/>
</svg>
</body></html>
